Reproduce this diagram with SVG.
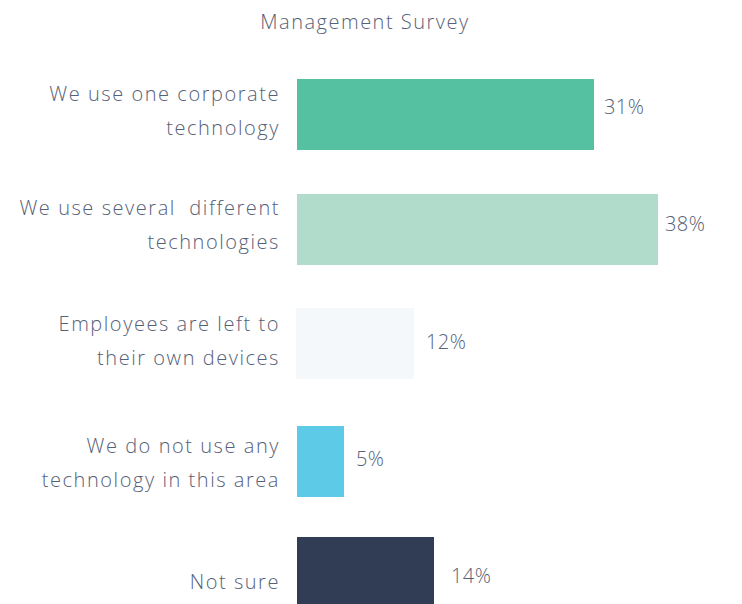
<svg xmlns="http://www.w3.org/2000/svg" width="742" height="604" viewBox="0 0 742 604">
<style>
text{font-family:"Open Sans","Liberation Sans",sans-serif;font-weight:300;fill:#566178;font-size:20px;letter-spacing:1.55px}
.lbl{text-anchor:end}
.title{text-anchor:middle;letter-spacing:1.5px}
.pct{letter-spacing:0.4px}
</style>
<rect width="742" height="604" fill="#ffffff"/>
<text class="title" x="365" y="29">Management Survey</text>
<g id="bar1">
<rect x="297" y="79" width="297" height="71" fill="#55c1a0"/>
<text class="lbl" x="280" y="101">We use one corporate</text>
<text class="lbl" x="280" y="135">technology</text>
<text class="pct" x="604" y="114">31%</text>
</g>
<g id="bar2">
<rect x="297" y="194" width="361" height="71" fill="#b1dccb"/>
<text class="lbl" x="280" y="215" xml:space="preserve">We use several  different</text>
<text class="lbl" x="280" y="249">technologies</text>
<text class="pct" x="665" y="231">38%</text>
</g>
<g id="bar3">
<rect x="296" y="308" width="118" height="71" fill="#f4f8fb"/>
<text class="lbl" x="280" y="331">Employees are left to</text>
<text class="lbl" x="280" y="365">their own devices</text>
<text class="pct" x="426" y="349">12%</text>
</g>
<g id="bar4">
<rect x="297" y="426" width="47" height="71" fill="#5dcae7"/>
<text class="lbl" x="280" y="453">We do not use any</text>
<text class="lbl" x="280" y="487">technology in this area</text>
<text class="pct" x="356" y="466">5%</text>
</g>
<g id="bar5">
<rect x="297" y="537" width="137" height="71" fill="#303d54"/>
<text class="lbl" x="280" y="589">Not sure</text>
<text class="pct" x="451" y="583">14%</text>
</g>
<g id="connectors"></g>
</svg>
